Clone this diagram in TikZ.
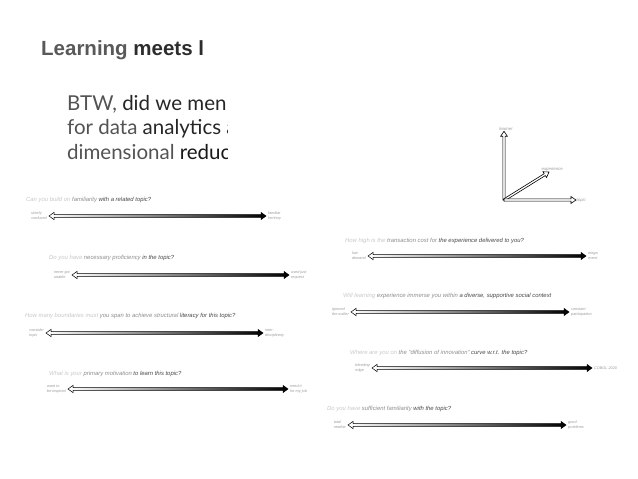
\documentclass[tikz,border=0pt]{standalone}
\usepackage{fontspec}
\setmainfont{Liberation Sans}
\newfontfamily\bodyfont{Lato}
\usetikzlibrary{arrows.meta,calc}
\usepackage{xcolor}
\definecolor{qa}{gray}{0.78}
\definecolor{qb}{gray}{0.55}
\definecolor{qc}{gray}{0.28}
\definecolor{tag}{gray}{0.6}

\begin{document}
\begin{tikzpicture}[x=1pt,y=-1pt,
  ques/.style={anchor=base west,inner sep=0pt,font=\fontsize{5.9}{6.5}\selectfont\itshape},
  lend/.style={anchor=east,inner xsep=2pt,inner ysep=0pt,align=left,text=tag,font=\fontsize{3.8}{4.9}\selectfont\itshape},
  rend/.style={lend,anchor=west},
  axlab/.style={inner sep=0.5pt,text=tag,font=\fontsize{4.3}{5}\selectfont\itshape},
  axis/.style={draw=black,line width=0.6pt,fill=white,
    to path={let \p1=(\tikztostart),\p2=(\tikztotarget),\n1={atan2(\y2-\y1,\x2-\x1)} in
      ($(\p1)+(\n1-90:1.1pt)$) -- ($(\p2)+(\n1+180:5pt)+(\n1-90:1.1pt)$)
      -- ($(\p2)+(\n1+180:5pt)+(\n1-90:3.4pt)$) -- (\p2)
      -- ($(\p2)+(\n1+180:5pt)+(\n1+90:3.4pt)$) -- ($(\p2)+(\n1+180:5pt)+(\n1+90:1.1pt)$)
      -- ($(\p1)+(\n1+90:1.1pt)$) -- cycle}},
  scalebar/.style={draw=black,line width=0.5pt,left color=white,right color=black,
    to path={let \p1=(\tikztostart),\p2=(\tikztotarget) in
      (\x1,\y1) -- (\x1+5pt,\y1+3.6pt) -- (\x1+5pt,\y1+1.3pt) -- (\x2-5pt,\y1+1.3pt)
      -- (\x2-5pt,\y1+3.6pt) -- (\x2,\y1) -- (\x2-5pt,\y1-3.6pt) -- (\x2-5pt,\y1-1.3pt)
      -- (\x1+5pt,\y1-1.3pt) -- (\x1+5pt,\y1-3.6pt) -- cycle}}]
\useasboundingbox (0,0) rectangle (638,479);

% title and the cut-off slide text
\node[anchor=base west,inner sep=0pt,font=\fontsize{20.5}{22}\selectfont\bfseries] (title) at (41,55)
  {{\color{gray!70!black}Learning} {\color{gray!35!black}meets l}};
\begin{scope}
\clip (60,85) rectangle (227,170);
\node[anchor=base west,inner sep=0pt,font=\bodyfont\fontsize{20.5}{25}\selectfont] (l1) at (67,110)
  {{\color{gray!65!black}BTW,} {\color{gray!30!black}did we men}};
\node[anchor=base west,inner sep=0pt,font=\bodyfont\fontsize{20.5}{25}\selectfont] (l2) at (67,134)
  {{\color{gray!65!black}for data} {\color{gray!30!black}analytics a}};
\node[anchor=base west,inner sep=0pt,font=\bodyfont\fontsize{20.5}{25}\selectfont] (l3) at (67,159)
  {{\color{gray!65!black}dimensional} {\color{gray!20!black}reduc}};
\end{scope}

% learner / experience / topic axes
\coordinate (o) at (504,200);
\node[axlab] (lrn) at (506,129) {learner};
\node[axlab,anchor=south west] (exp) at (541,172) {experience};
\node[axlab,anchor=west] (tpc) at (576,200) {topic};
\draw[axis] (o) to (o |- lrn.south);
\draw[axis] (o) to ([xshift=8pt]exp.south west);
\draw[axis] (o) to (tpc.west);

% left column
\node[ques] (q1) at (26,201) {{\color{qa}Can you build on }{\color{qb}familiarity }{\color{qc}with a related topic?}};
\node[lend] (a1) at (49,216) {utterly\\confused};
\node[rend] (b1) at (266,216) {familiar\\territory};
\draw[scalebar] (a1.east) to (b1.west);

\node[ques] (q2) at (49,259) {{\color{qa}Do you have }{\color{qb}necessary proficiency }{\color{qc}in the topic?}};
\node[lend] (a2) at (72,275) {never got\\unable};
\node[rend] (b2) at (289,275) {used just\\request};
\draw[scalebar] (a2.east) to (b2.west);

\node[ques] (q3) at (25,317) {{\color{qa}How many boundaries must }{\color{qb}you span to achieve structural }{\color{qc}literacy for this topic?}};
\node[lend] (a3) at (46,333) {consider\\topic};
\node[rend] (b3) at (263,333) {inter-\\disciplinary};
\draw[scalebar] (a3.east) to (b3.west);

\node[ques] (q4) at (49,375) {{\color{qa}What is your }{\color{qb}primary motivation }{\color{qc}to learn this topic?}};
\node[lend] (a4) at (68,389) {want to\\be inspired};
\node[rend] (b4) at (288,389) {need it\\for my job};
\draw[scalebar] (a4.east) to (b4.west);

% right column
\node[ques] (q5) at (345,242) {{\color{qa}How high is the }{\color{qb}transaction cost for }{\color{qc}the experience delivered to you?}};
\node[lend] (a5) at (368,256) {low\\demand};
\node[rend] (b5) at (586,256) {mega\\event};
\draw[scalebar] (a5.east) to (b5.west);

\node[ques] (q6) at (343,297) {{\color{qa}Will learning }{\color{qb}experience immerse you within }{\color{qc}a diverse, supportive social context}};
\node[lend] (a6) at (351,312) {ignored\\the outlier};
\node[rend] (b6) at (569,312) {constant\\participation};
\draw[scalebar] (a6.east) to (b6.west);

\node[ques] (q7) at (350,354) {{\color{qa}Where are you on }{\color{qb}the "diffusion of innovation" }{\color{qc}curve w.r.t. the topic?}};
\node[lend] (a7) at (372,368) {bleeding\\edge};
\node[rend] (b7) at (592,368) {COBOL 2020};
\draw[scalebar] (a7.east) to (b7.west);

\node[ques] (q8) at (327,410) {{\color{qa}Do you have }{\color{qb}sufficient familiarity }{\color{qc}with the topic?}};
\node[lend] (a8) at (348,425) {total\\newbie};
\node[rend] (b8) at (566,425) {good\\problems};
\draw[scalebar] (a8.east) to (b8.west);
\end{tikzpicture}
\end{document}
